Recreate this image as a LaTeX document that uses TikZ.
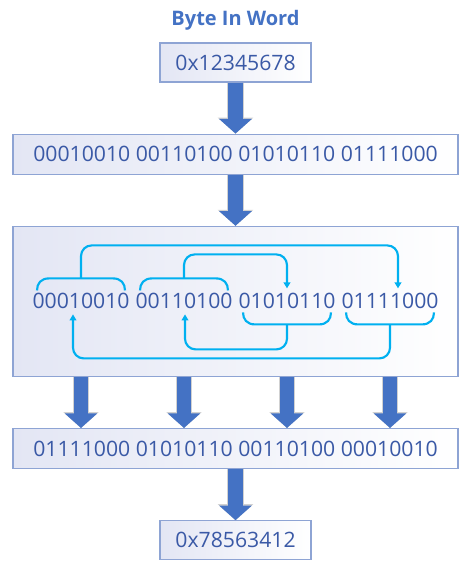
\documentclass[tikz,border=0pt]{standalone}
\usepackage{fontspec}
\setmainfont{Open Sans}
\usetikzlibrary{positioning,calc,arrows.meta}
\definecolor{wordblue}{HTML}{4472C4}
\definecolor{digitblue}{HTML}{3A59A6}
\definecolor{edgeblue}{HTML}{8EA4D4}
\definecolor{shadeblue}{HTML}{E3E6F4}
\definecolor{swapcyan}{HTML}{00B0F0}

\begin{document}
\begin{tikzpicture}[
    x=0.75pt, y=-0.75pt,
    node distance=38.25pt,
    every node/.style={font=\fontsize{15.9}{18}\selectfont, text=digitblue},
    box/.style={draw=edgeblue, line width=0.9pt, left color=shadeblue, middle color=white, right color=white, minimum width=113.25pt, minimum height=29.25pt, inner sep=0pt},
    widebox/.style={box, minimum width=333.75pt, minimum height=30pt},
    byte/.style={inner sep=0pt},
    fat/.style={wordblue, line width=11pt, -{Triangle[width=24pt,length=11pt]}, preaction={draw=black!18, line width=12.5pt, -{Triangle[width=26pt,length=12pt]}}},
    swap/.style={swapcyan, line width=1.6pt, rounded corners=8pt},
    brace/.style={swapcyan, line width=1.6pt, sharp corners},
    swaparrow/.style={swap, -{Triangle[length=4.5pt,width=5pt]}}
]
\useasboundingbox (0,0) rectangle (474,583);

\node[font=\fontsize{15}{18}\selectfont\bfseries, text=wordblue] (title) at (235.5,20) {Byte In Word};
\node[box] (box1) at (235.5,62.5) {0x12345678};
\node[widebox, below=of box1] (box2) {00010010 00110100 01010110 01111000};
\node[widebox, minimum height=112.5pt, below=of box2] (box3) {};
\node[widebox, below=of box3] (box4) {01111000 01010110 00110100 00010010};
\node[box, below=of box4] (box5) {0x78563412};

% bytes inside the swap box
\node[byte] (b1) at ($(box3)+(-154.5,0)$) {00010010};
\node[byte] (b2) at ($(box3)+(-51.5,0)$) {00110100};
\node[byte] (b3) at ($(box3)+(51.5,0)$) {01010110};
\node[byte] (b4) at ($(box3)+(154.5,0)$) {01111000};

% braces over and under the bytes
\foreach \b/\s in {b1/-1,b2/-1,b3/1,b4/1} {
  \draw[brace] ($(\b)+(-44,\s*11)$) .. controls ($(\b)+(-44,\s*18)$) and ($(\b)+(-40,\s*23)$) .. ($(\b)+(-32,\s*23)$)
    -- ($(\b)+(32,\s*23)$) .. controls ($(\b)+(40,\s*23)$) and ($(\b)+(44,\s*18)$) .. ($(\b)+(44,\s*11)$);
  \coordinate (m\b) at ($(\b)+(0,\s*23)$);
}

\draw[swaparrow] (mb1) |- ($(b4)+(8,-56)$) -- ($(b4)+(8,-13)$);
\draw[swaparrow] (mb2) |- ($(b3)+(0,-47)$) -- ($(b3)+(0,-13)$);
\draw[swaparrow] (mb3) |- ($(b2)+(1,48)$) -- ($(b2)+(1,13)$);
\draw[swaparrow] (mb4) |- ($(b1)+(-8,57)$) -- ($(b1)+(-8,13)$);

\draw[fat] (box1) -- (box2);
\draw[fat] (box2) -- (box3);
\foreach \b in {b1,b2,b3,b4}
  \draw[fat] (\b |- box3.south) -- (\b |- box4.north);
\draw[fat] (box4) -- (box5);
\end{tikzpicture}
\end{document}
